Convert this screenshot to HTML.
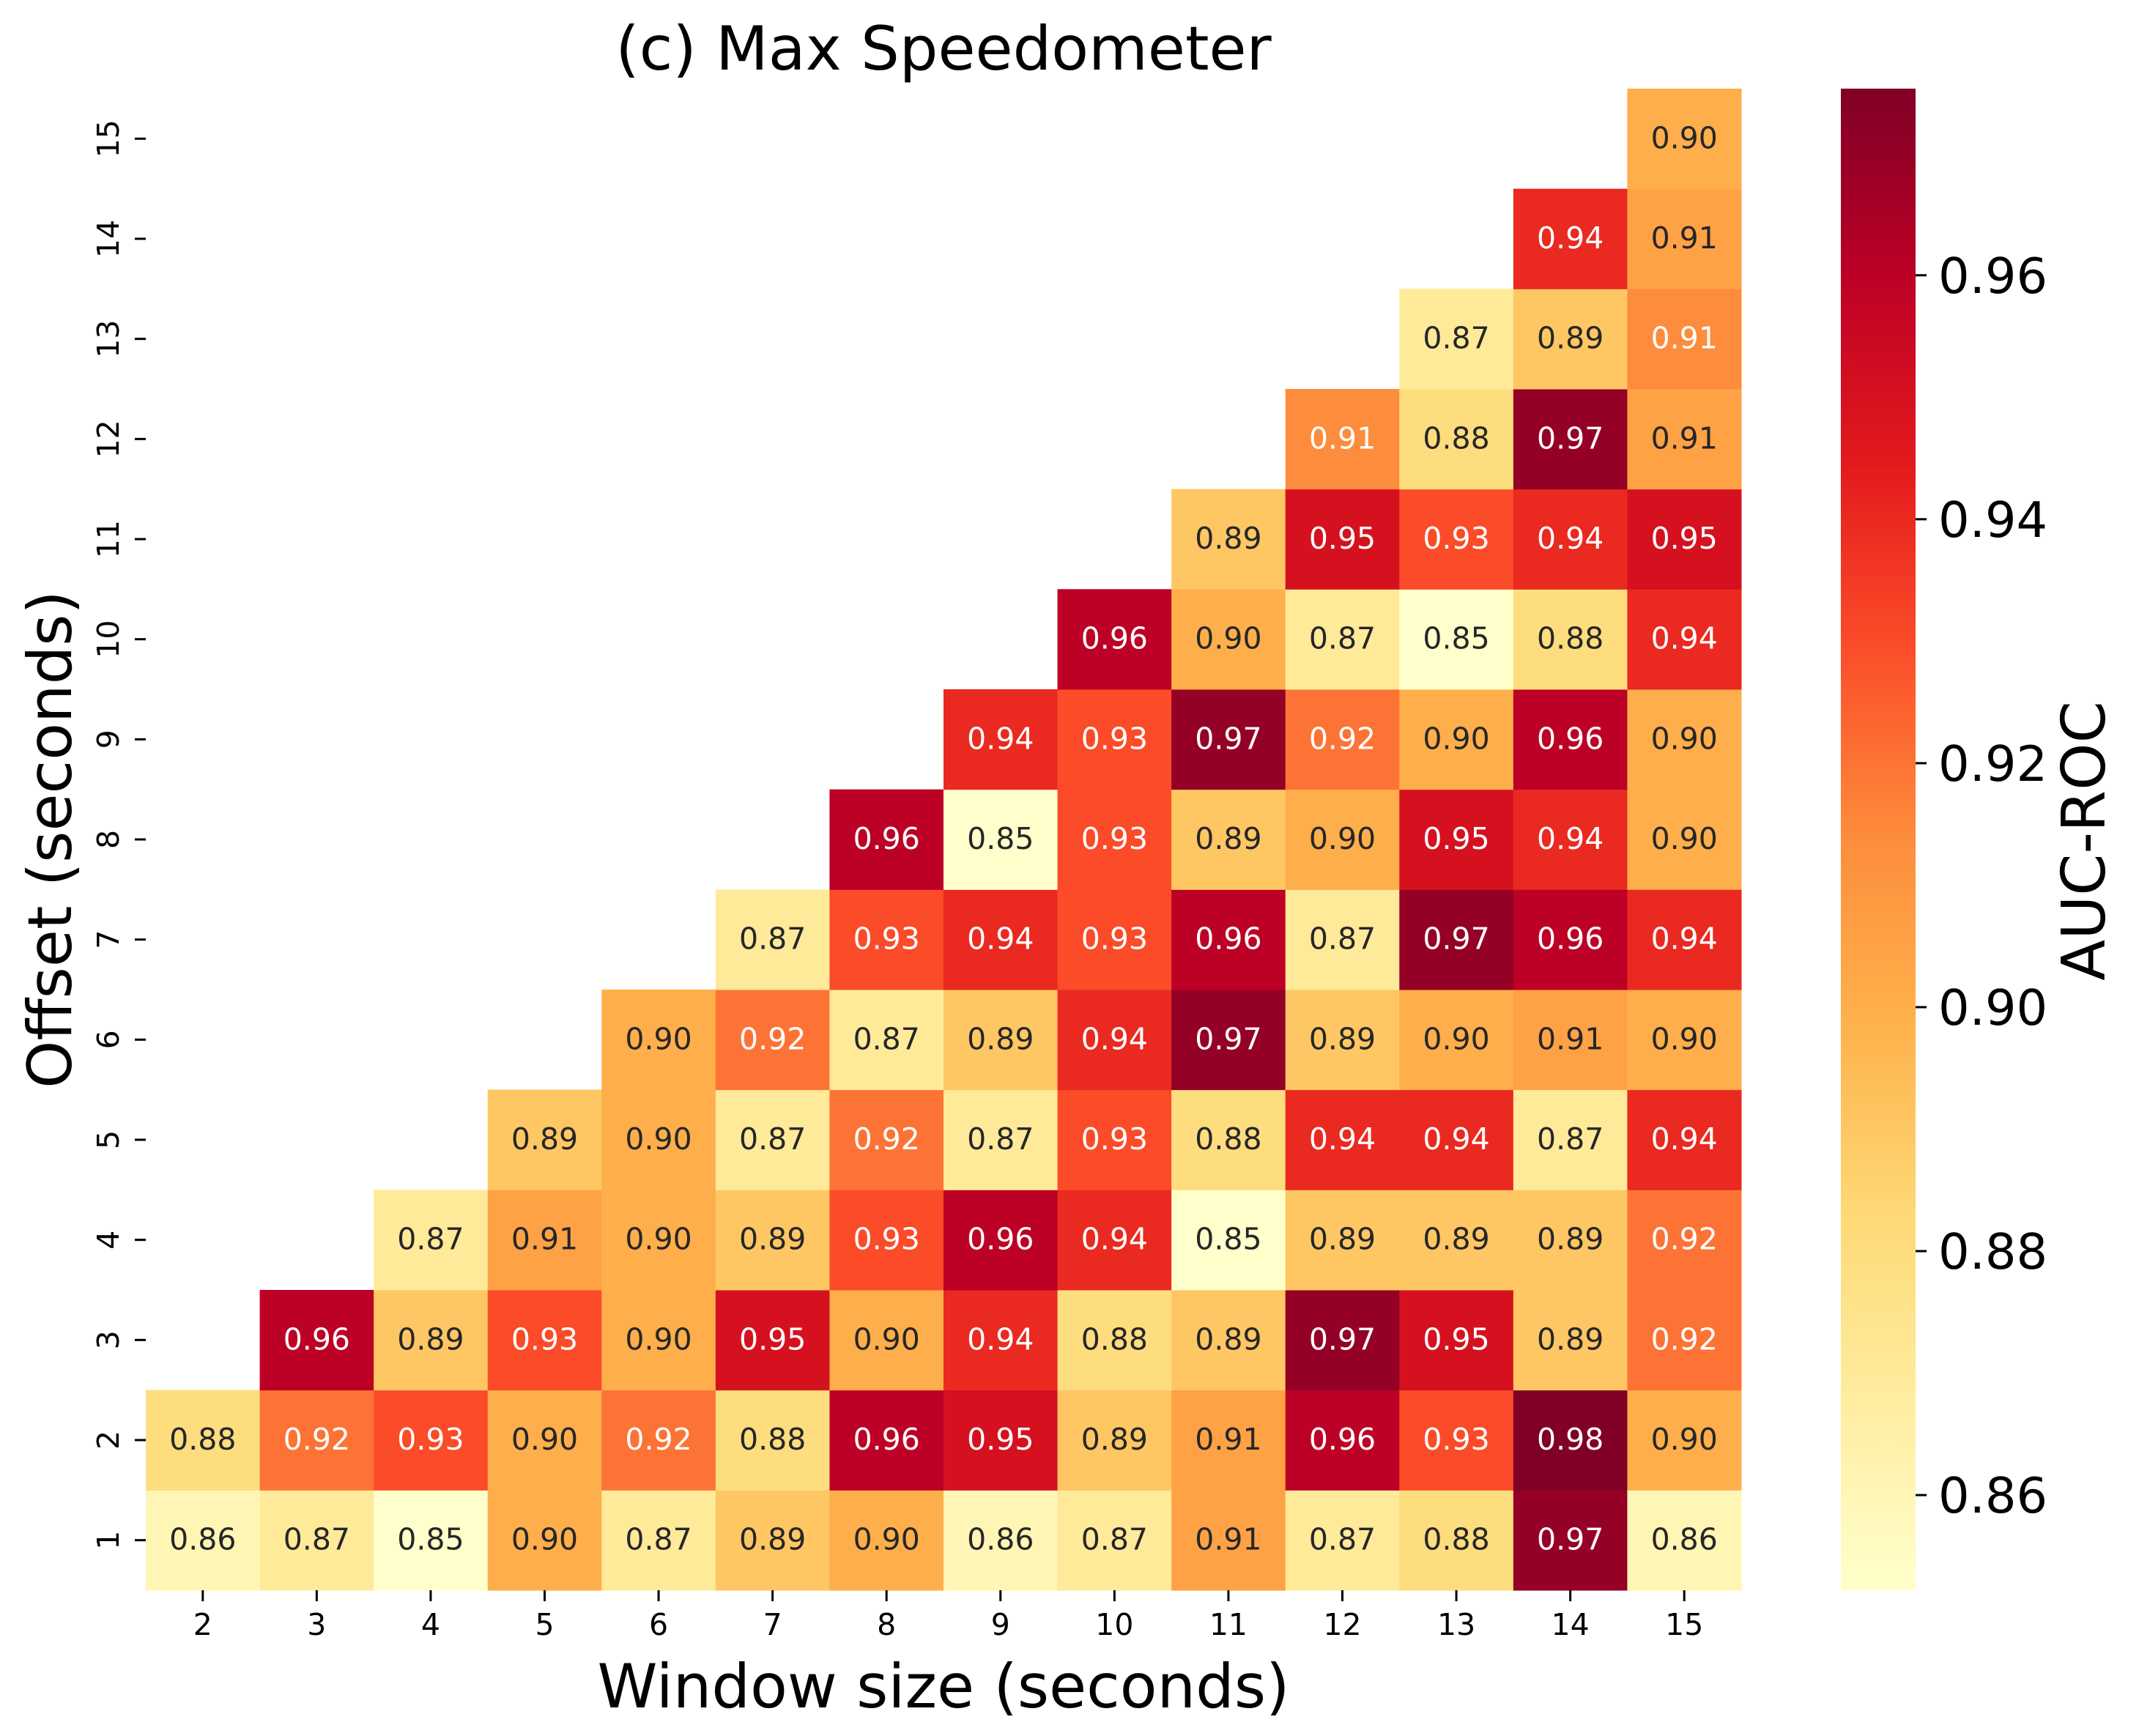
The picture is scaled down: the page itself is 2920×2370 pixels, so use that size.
<!DOCTYPE html>
<html><head><meta charset="utf-8"><style>
html,body{margin:0;padding:0;background:#fff;}
svg{display:block;font-family:"DejaVu Sans","Liberation Sans",sans-serif;}
</style></head><body>
<svg id="chart" width="2920" height="2370" viewBox="0 0 2920 2370" xmlns="http://www.w3.org/2000/svg">
<defs>
<linearGradient id="cbgrad" x1="0" y1="1" x2="0" y2="0">
<stop offset="0" stop-color="#ffffcc"/><stop offset="0.125" stop-color="#ffeda0"/><stop offset="0.25" stop-color="#fed976"/><stop offset="0.375" stop-color="#feb24c"/><stop offset="0.5" stop-color="#fd8d3c"/><stop offset="0.625" stop-color="#fc4e2a"/><stop offset="0.75" stop-color="#e31a1c"/><stop offset="0.875" stop-color="#bd0026"/><stop offset="1" stop-color="#800026"/>
</linearGradient>
</defs>
<text x="1288" y="95" font-size="83" text-anchor="middle">(c) Max Speedometer</text>
<text x="1288" y="2331" font-size="83" text-anchor="middle">Window size (seconds)</text>
<text transform="translate(97,1146) rotate(-90)" font-size="83" text-anchor="middle">Offset (seconds)</text>
<g id="cells"></g>
<g id="xaxis"></g>
<g id="yaxis"></g>
<rect x="2513" y="121" width="102" height="2050" fill="url(#cbgrad)"/>
<g id="cbaxis"></g>
<text transform="translate(2873,1148) rotate(-90)" font-size="82" text-anchor="middle">AUC-ROC</text>
</svg>
<script>
const windows = [2,3,4,5,6,7,8,9,10,11,12,13,14,15];
const offsets = [1,2,3,4,5,6,7,8,9,10,11,12,13,14,15];
const row1 = [0.86,0.87,0.85,0.90,0.87,0.89,0.90,0.86,0.87,0.905,0.87,0.88,0.97,0.86];
const row2 = [0.88,0.92,0.93,0.90,0.92,0.88,0.96,0.95,0.89,0.905,0.96,0.93,0.98,0.90];
const row3 = [0.96,0.89,0.93,0.90,0.95,0.90,0.94,0.88,0.89,0.97,0.95,0.89,0.92];
const row4 = [0.87,0.905,0.90,0.89,0.93,0.96,0.94,0.85,0.89,0.89,0.89,0.92];
const row5 = [0.89,0.90,0.87,0.92,0.87,0.93,0.88,0.94,0.94,0.87,0.94];
const row6 = [0.90,0.92,0.87,0.89,0.94,0.97,0.89,0.90,0.905,0.90];
const row7 = [0.87,0.93,0.94,0.93,0.96,0.87,0.97,0.96,0.94];
const row8 = [0.96,0.85,0.93,0.89,0.90,0.95,0.94,0.90];
const row9 = [0.94,0.93,0.97,0.92,0.90,0.96,0.90];
const row10 = [0.96,0.90,0.87,0.85,0.88,0.94];
const row11 = [0.89,0.95,0.93,0.94,0.95];
const row12 = [0.914,0.88,0.97,0.905];
const row13 = [0.87,0.89,0.914];
const row14 = [0.94,0.905];
const row15 = [0.90];
const rows = [row1,row2,row3,row4,row5,row6,row7,row8,row9,row10,row11,row12,row13,row14,row15];
const cbTicks = [0.86,0.88,0.90,0.92,0.94,0.96];
const vmin = 0.8522, vmax = 0.9753;

const X0=199, X1=2377, Y0=121, Y1=2171;
const colW=(X1-X0)/windows.length, rowH=(Y1-Y0)/offsets.length;
const xPos = w => X0 + windows.indexOf(w)*colW;
const yPos = o => Y1 - (offsets.indexOf(o)+1)*rowH;
const cbY = v => Y1 - (v - vmin)/(vmax - vmin)*(Y1-Y0);
const stops=["#ffffcc","#ffeda0","#fed976","#feb24c","#fd8d3c","#fc4e2a","#e31a1c","#bd0026","#800026"].map(h=>[parseInt(h.substr(1,2),16),parseInt(h.substr(3,2),16),parseInt(h.substr(5,2),16)]);
function cmap(v){let t=Math.max(0,Math.min(1,(v-vmin)/(vmax-vmin)))*8;let i=Math.min(7,Math.floor(t));let f=t-i;return stops[i].map((c,k)=>Math.round(c+(stops[i+1][k]-c)*f));}
function lum(c){const l=c.map(x=>{x/=255;return x<=0.03928?x/12.92:Math.pow((x+0.055)/1.055,2.4);});return 0.2126*l[0]+0.7152*l[1]+0.0722*l[2];}
const NS="http://www.w3.org/2000/svg";
function mk(tag,attrs,parent){const e=document.createElementNS(NS,tag);for(const k in attrs)e.setAttribute(k,attrs[k]);parent.appendChild(e);return e;}
const gc=document.getElementById('cells');
rows.forEach((vals,r)=>{
  const o=offsets[r]; const start=Math.max(2,o);
  vals.forEach((v,j)=>{
    const w=start+j; const c=cmap(v);
    const rect=mk('rect',{x:xPos(w),y:yPos(o),width:colW+0.5,height:rowH+0.5,fill:`rgb(${c[0]},${c[1]},${c[2]})`},gc);
    
    
    const t=mk('text',{x:xPos(w)+colW/2,y:yPos(o)+rowH/2+13,'font-size':41,'text-anchor':'middle',fill:lum(c)>0.408?'#262626':'#ffffff'},gc);
    t.textContent=v.toFixed(2);
    
    
  });
});
const gx=document.getElementById('xaxis');
windows.forEach(w=>{
  const cx=xPos(w)+colW/2;
  const l=mk('line',{x1:cx,x2:cx,y1:Y1,y2:Y1+15,stroke:'#000','stroke-width':3},gx);
  
  
  const t=mk('text',{x:cx,y:2232,'font-size':41,'text-anchor':'middle'},gx);
  t.textContent=w;
  
  
});
const gy=document.getElementById('yaxis');
offsets.forEach(o=>{
  const cy=yPos(o)+rowH/2;
  const l=mk('line',{x1:X0-15,x2:X0,y1:cy,y2:cy,stroke:'#000','stroke-width':3},gy);
  
  
  const t=mk('text',{transform:`translate(162,${cy}) rotate(-90)`,'font-size':41,'text-anchor':'middle'},gy);
  t.textContent=o;
  
  
});
const gcb=document.getElementById('cbaxis');
cbTicks.forEach(v=>{
  const y=cbY(v);
  const l=mk('line',{x1:2615,x2:2630,y1:y,y2:y,stroke:'#000','stroke-width':3},gcb);
  
  
  const t=mk('text',{x:2646,y:y+24,'font-size':67},gcb);
  t.textContent=v.toFixed(2);
  
  
});
</script>
</body></html>
